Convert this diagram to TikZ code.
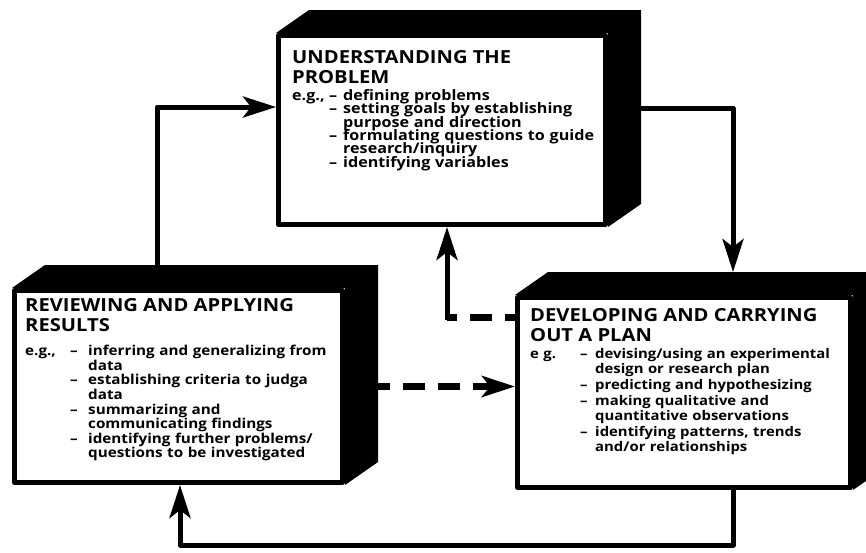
\documentclass[tikz,border=0pt]{standalone}
\usepackage{fontspec}
\setmainfont{Open Sans}[FakeStretch=1.12]
\usetikzlibrary{arrows.meta,positioning}
\newlength\egw
\newlength\dw
\newcommand\egl[1]{\makebox[\egw][l]{#1}\makebox[\dw][l]{--}}
\newcommand\itm{\hspace*{\egw}\makebox[\dw][l]{--}}
\newcommand\nxt{\hspace*{\egw}\hspace*{\dw}}
\tikzset{
	face/.style={draw,line width=5pt,fill=white,anchor=north west,inner sep=0pt},
	ttl/.style={anchor=north west,inner sep=0pt,align=left,font=\fontsize{18}{20}\selectfont\bfseries},
	bdy/.style n args={4}{anchor=north west,inner sep=0pt,text width=320pt,align=left,
		font=\fontsize{#1}{#2}\selectfont\bfseries,
		/utils/exec={\normallineskiplimit=-20pt\relax\setlength\egw{#3}\setlength\dw{#4}}},
	conn/.style={line width=5pt,line cap=rect},
	dconn/.style={line width=7pt,dash pattern=on 22pt off 13pt},
}
% black side and top of a box
\newcommand\extrude[1]{\fill (#1.north west) -- ++(33,-23) -| ([shift={(33,-23)}]#1.south east) -- (#1.south east) -- (#1.north east) -- cycle;}
\begin{document}
\begin{tikzpicture}[x=1pt,y=-1pt,line join=round,>={Stealth[length=33pt,width=21pt,inset=8pt]}]
	\clip (0,0) rectangle (866,552);
	\fill[white] (0,0) rectangle (866,552);
	% the three boxes
	\node[face,minimum width=327pt,minimum height=189pt] (prob) at (276,33) {};\extrude{prob}
	\node[face,minimum width=328pt,minimum height=192pt] (rev) at (12,288) {};\extrude{rev}
	\node[face,minimum width=333pt,minimum height=190pt] (plan) at (515,295) {};\extrude{plan}
	% texts
	\node[ttl] (probT) at ([shift={(16,17)}]prob.north west) {UNDERSTANDING THE\\PROBLEM};
	\node[bdy={14.4}{13.4}{37pt}{14pt}] (probL) at ([shift={(16,56)}]prob.north west) {%
		\egl{e.g.,}defining problems\\
		\itm setting goals by establishing\\
		\nxt purpose and direction\\
		\itm formulating questions to guide\\
		\nxt research/inquiry\\
		\itm identifying variables};
	\node[ttl] (revT) at ([shift={(13,10)}]rev.north west) {REVIEWING AND APPLYING\\RESULTS};
	\node[bdy={13.6}{14.6}{45pt}{18pt}] (revL) at ([shift={(13,57)}]rev.north west) {%
		\egl{e.g.,}inferring and generalizing from\\
		\nxt data\\
		\itm establishing criteria to judga\\
		\nxt data\\
		\itm summarizing and\\
		\nxt communicating findings\\
		\itm identifying further problems/\\
		\nxt questions to be investigated};
	\node[ttl] (planT) at ([shift={(15,13)}]plan.north west) {DEVELOPING AND CARRYING\\OUT A PLAN};
	\node[bdy={13.3}{15.6}{50pt}{15pt}] (planL) at ([shift={(15,53)}]plan.north west) {%
		\egl{e g.}devising/using an experimental\\
		\nxt design or research plan\\
		\itm predicting and hypothesizing\\
		\itm making qualitative and\\
		\nxt quantitative observations\\
		\itm identifying patterns, trends\\
		\nxt and/or relationships};
	% connectors
	\draw[conn,->] ([shift={(145,-23)}]rev.north west) |- ([shift={(0,74)}]prob.north west);
	\draw[conn,->] ([shift={(32,75)}]prob.north east) -| ([shift={(218,-23)}]plan.north west);
	\draw[conn,->] ([xshift=218pt]plan.south west) -- ++(0,55) -| ([xshift=168pt]rev.south west);
	\path ([xshift=171pt]prob.south west) coordinate (pb) ([yshift=-22pt]plan.north west) coordinate (pl);
	\draw[dconn,dash phase=12pt] (pl) -- (pl -| pb);
	\draw[conn,->] (pl -| pb) -- (pb);
	\draw[dconn,dash phase=9pt,->] ([xshift=32pt]rev.east) -- (plan.west |- rev.east);
\end{tikzpicture}
\end{document}
